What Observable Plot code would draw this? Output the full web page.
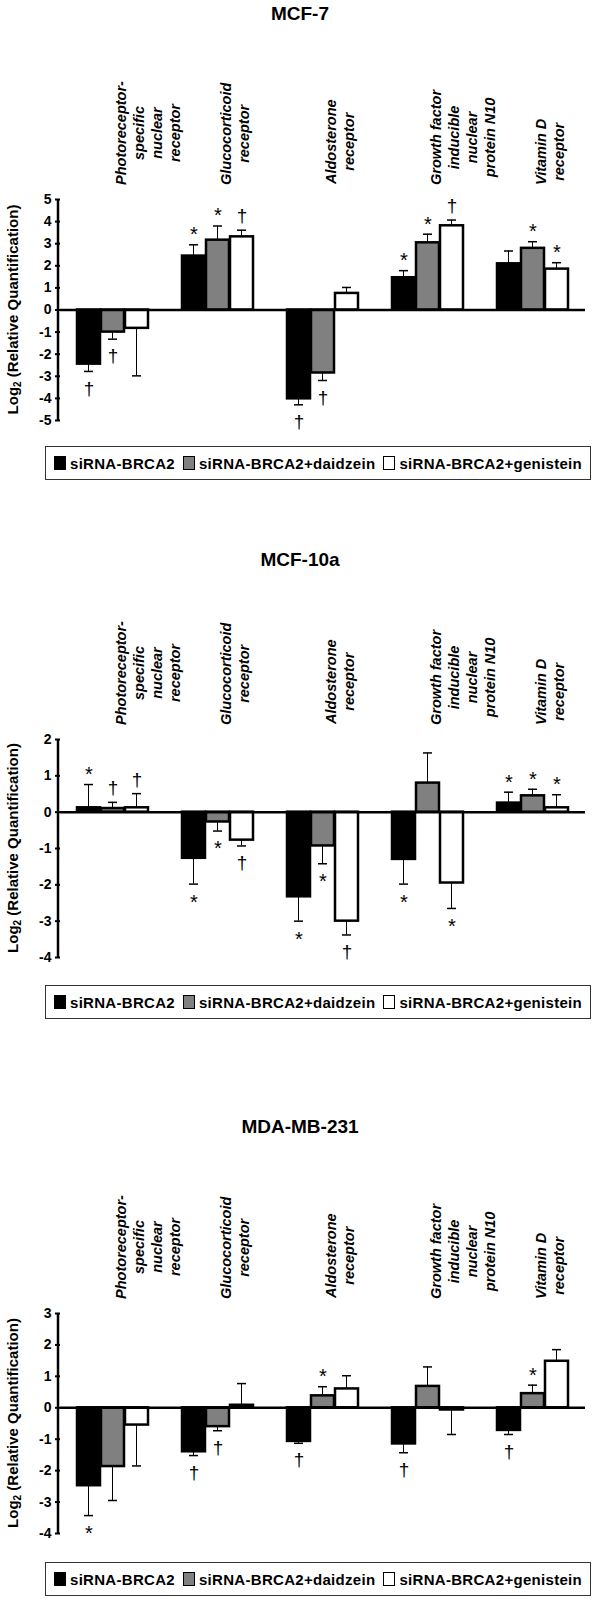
<!DOCTYPE html>
<html><head><meta charset="utf-8">
<script src="https://cdn.jsdelivr.net/npm/d3@7"></script>
<script src="https://cdn.jsdelivr.net/npm/@observablehq/plot@0.6"></script>
<style>
body{margin:0;background:#fff;font-family:"Liberation Sans",Arial,sans-serif;}
#root{position:relative;width:600px;height:1599px;}
.title{position:absolute;left:0;width:600px;text-align:center;font-weight:bold;font-size:19px;}
.plot{position:absolute;left:0;}
.legend{position:absolute;left:45px;width:546px;height:34px;border:1.5px solid #333;box-sizing:border-box;display:flex;align-items:center;justify-content:center;gap:8px;font-weight:bold;font-size:15px;letter-spacing:0.3px;}
.sw{display:inline-block;width:10px;height:12px;border:1.5px solid #000;margin-right:4px;vertical-align:-1px;}
</style></head>
<body><div id="root"></div>
<script>
const categories = ["Photoreceptor-\nspecific\nnuclear\nreceptor","Glucocorticoid\nreceptor","Aldosterone\nreceptor","Growth factor\ninducible\nnuclear\nprotein N10","Vitamin D\nreceptor"];
const seriesNames = ["siRNA-BRCA2","siRNA-BRCA2+daidzein","siRNA-BRCA2+genistein"];
const seriesFill = ["#000000","#808080","#ffffff"];

const mcf7Values = [[-2.45,-1.0,-0.83],[2.44,3.16,3.31],[-4.02,-2.85,0.75],[1.46,3.04,3.81],[2.09,2.79,1.85]];
const mcf7ErrEnd = [[-2.78,-1.32,-2.98],[2.95,3.8,3.61],[-4.29,-3.19,1.02],[1.78,3.43,4.07],[2.67,3.09,2.14]];
const mcf7Marks  = [["†","†",""],["*","*","†"],["†","†",""],["*","*","†"],["","*","*"]];

const mcf10aValues = [[0.12,0.1,0.12],[-1.27,-0.27,-0.77],[-2.33,-0.93,-3.0],[-1.3,0.8,-1.95],[0.25,0.45,0.12]];
const mcf10aErrEnd = [[0.76,0.27,0.51],[-1.98,-0.52,-0.93],[-3.0,-1.42,-3.38],[-1.98,1.63,-2.65],[0.55,0.63,0.48]];
const mcf10aMarks  = [["*","†","†"],["*","*","†"],["*","*","†"],["*","","*"],["*","*","*"]];

const mdaValues = [[-2.48,-1.87,-0.55],[-1.4,-0.6,0.08],[-1.07,0.38,0.6],[-1.15,0.68,-0.07],[-0.72,0.45,1.48]];
const mdaErrEnd = [[-3.43,-2.95,-1.85],[-1.52,-0.73,0.77],[-1.13,0.67,1.02],[-1.43,1.3,-0.85],[-0.85,0.72,1.85]];
const mdaMarks  = [["*","",""],["†","†",""],["†","*",""],["†","",""],["†","*",""]];

const yTicks1 = [-5,-4,-3,-2,-1,0,1,2,3,4,5];
const yTicks2 = [-4,-3,-2,-1,0,1,2];
const yTicks3 = [-4,-3,-2,-1,0,1,2,3];

const panels = [
  {title:"MCF-7", titleTop:3, svgTop:30, mt:169, plotH:221, vals:mcf7Values, errs:mcf7ErrEnd, marks:mcf7Marks, ticks:yTicks1, legendTop:446},
  {title:"MCF-10a", titleTop:549, svgTop:590, mt:149, plotH:218, vals:mcf10aValues, errs:mcf10aErrEnd, marks:mcf10aMarks, ticks:yTicks2, legendTop:985},
  {title:"MDA-MB-231", titleTop:1116, svgTop:1150, mt:163, plotH:220, vals:mdaValues, errs:mdaErrEnd, marks:mdaMarks, ticks:yTicks3, legendTop:1562}
];

const root = document.getElementById("root");
const svgNS="http://www.w3.org/2000/svg";
for (const p of panels) {
  const rows = [];
  categories.forEach((c,i)=>seriesNames.forEach((s,j)=>rows.push({cat:c,ser:s,v:p.vals[i][j],e:p.errs[i][j],m:p.marks[i][j]})));
  const t = document.createElement("div"); t.className="title"; t.style.top=p.titleTop+"px"; t.textContent=p.title; root.appendChild(t);
  const mb = 10;
  const starUp = rows.filter(d=>d.m==="*"&&d.e>=0), starDn = rows.filter(d=>d.m==="*"&&d.e<0);
  const dagUp = rows.filter(d=>d.m==="†"&&d.e>=0), dagDn = rows.filter(d=>d.m==="†"&&d.e<0);
  const chart = Plot.plot({
    width:600, height:p.mt+p.plotH+mb, marginTop:p.mt, marginBottom:mb, marginLeft:58, marginRight:14,
    style:{fontFamily:"Liberation Sans, Arial, sans-serif", fontSize:"14px", fontWeight:"bold", background:"white"},
    fx:{domain:categories, padding:0, axis:null},
    x:{domain:seriesNames, axis:null, paddingInner:0.04, paddingOuter:0.7},
    y:{domain:[p.ticks[0], p.ticks[p.ticks.length-1]], ticks:p.ticks, tickFormat:d=>String(d), label:null, tickSize:5},
    marks:[
      Plot.barY(rows.filter(d=>d.e!==d.v),{fx:"cat",x:"ser",y1:"v",y2:"e",fill:"#000",insetLeft:11,insetRight:11}),
      Plot.tickY(rows,{fx:"cat",x:"ser",y:"e",stroke:"#000",strokeWidth:1.5,insetLeft:7,insetRight:7}),
      Plot.barY(rows,{fx:"cat",x:"ser",y1:0,y2:"v",fill:d=>seriesFill[seriesNames.indexOf(d.ser)],stroke:"#000",strokeWidth:2.5}),
      Plot.text(starUp,{fx:"cat",x:"ser",y:"e",text:"m",fontSize:20,fontWeight:"normal",dy:-10,className:"sig"}),
      Plot.text(starDn,{fx:"cat",x:"ser",y:"e",text:"m",fontSize:20,fontWeight:"normal",dy:18,className:"sig"}),
      Plot.text(dagUp,{fx:"cat",x:"ser",y:"e",text:"m",fontSize:19,fontWeight:"normal",dy:-14,className:"sig"}),
      Plot.text(dagDn,{fx:"cat",x:"ser",y:"e",text:"m",fontSize:19,fontWeight:"normal",dy:17,className:"sig"}),
      Plot.ruleY([0],{stroke:"#000",strokeWidth:2.5}),
      Plot.axisY({ticks:p.ticks,tickFormat:d=>String(d),tickSize:5,strokeWidth:2,fontSize:14,fontWeight:"bold",label:null}),
      Plot.text(categories,{fx:d=>d,text:d=>d,frameAnchor:"top",dy:-14,rotate:-90,fontStyle:"italic",fontWeight:"bold",fontSize:14.5,lineHeight:1.25,textAnchor:"middle",className:"catlab"})
    ]
  });
  chart.classList.add("plot"); chart.style.top=p.svgTop+"px";
  root.appendChild(chart);
  const ax=document.createElementNS(svgNS,"line");
  ax.setAttribute("x1",58);ax.setAttribute("x2",58);ax.setAttribute("y1",p.mt);ax.setAttribute("y2",p.mt+p.plotH);
  ax.setAttribute("stroke","#000");ax.setAttribute("stroke-width",2.5);chart.appendChild(ax);
  const yl=document.createElementNS(svgNS,"text");
  yl.setAttribute("transform",`translate(14,${p.mt+p.plotH/2}) rotate(-90)`);
  yl.setAttribute("text-anchor","middle");yl.setAttribute("dominant-baseline","middle");
  yl.setAttribute("font-size","15");yl.setAttribute("font-weight","bold");
  yl.innerHTML='Log<tspan font-size="10" dy="4">2</tspan><tspan dy="-4"> (Relative Quantification)</tspan>';
  chart.appendChild(yl);
  // center significance markers on their bars (match cap centres)
  const caps=[...chart.querySelectorAll("line")];
  const svgRect = chart.getBoundingClientRect();
  chart.querySelectorAll(".catlab text").forEach(tx=>{
    const r = tx.getBoundingClientRect();
    const delta = (svgRect.top + p.mt - 14) - r.bottom;
    tx.setAttribute("transform", `translate(0,${delta}) ` + (tx.getAttribute("transform")||""));
  });
  const lg=document.createElement("div"); lg.className="legend"; lg.style.top=p.legendTop+"px";
  seriesNames.forEach((s,j)=>{const sp=document.createElement("span");sp.innerHTML=`<span class="sw" style="background:${seriesFill[j]}"></span>`;sp.appendChild(document.createTextNode(s));lg.appendChild(sp);});
  root.appendChild(lg);
}
</script></body></html>
